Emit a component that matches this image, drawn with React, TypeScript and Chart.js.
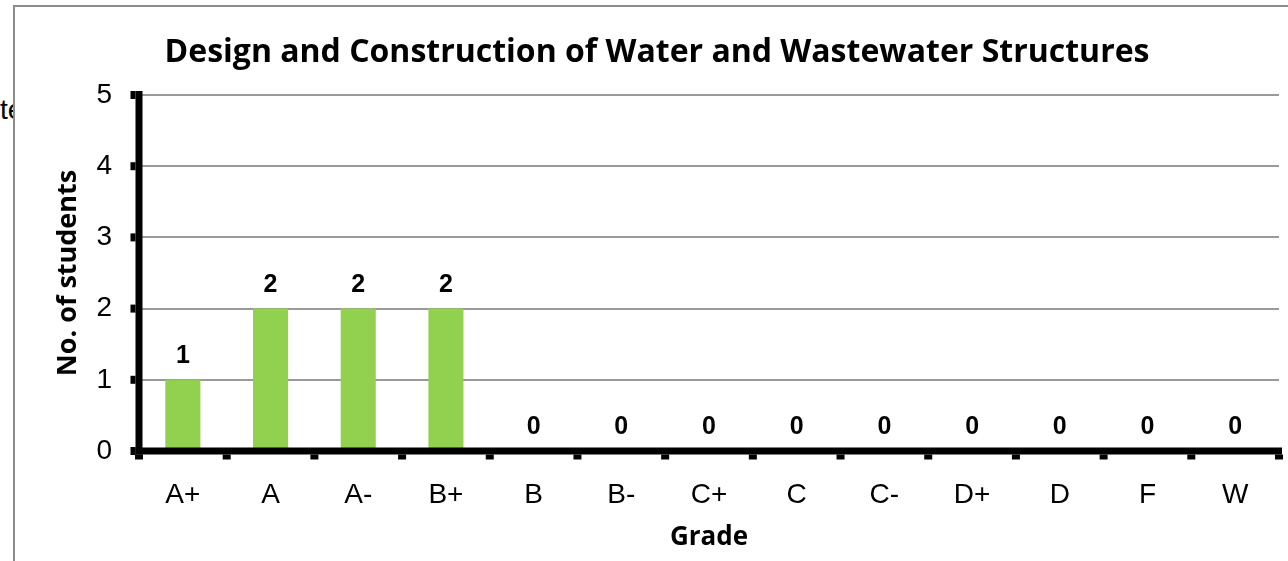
import React, { useEffect, useRef } from "react";
import { Chart, registerables } from "chart.js";

Chart.register(...registerables);

const TITLE = "Design and Construction of Water and Wastewater Structures";
const grades = ["A+", "A", "A-", "B+", "B", "B-", "C+", "C", "C-", "D+", "D", "F", "W"];
const students = [1, 2, 2, 2, 0, 0, 0, 0, 0, 0, 0, 0, 0];
const yMin = 0;
const yMax = 5;
const yStep = 1;
const xTitle = "Grade";
const yTitle = "No. of students";
const strayText = "te";

const AXIS_W = 7;

const titlePlugin = {
  id: "customTitle",
  afterDraw(chart: any) {
    const ctx = chart.ctx;
    ctx.save();
    ctx.font = "bold 32px 'Open Sans'";
    ctx.fillStyle = "#000";
    ctx.textAlign = "center";
    ctx.textBaseline = "alphabetic";
    ctx.fillText(TITLE, 657, 62);
    ctx.restore();
  },
};

const axesPlugin = {
  id: "thickAxes",
  afterDatasetsDraw(chart: any) {
    const ctx = chart.ctx;
    const { left, right } = chart.chartArea;
    const ys = chart.scales.y;
    const xs = chart.scales.x;
    const y0 = ys.getPixelForValue(yMin);
    const yTop = ys.getPixelForValue(yMax);
    ctx.save();
    ctx.fillStyle = "#000";
    // y axis line
    ctx.fillRect(left - AXIS_W / 2, yTop - 4, AXIS_W, y0 - yTop + 4 + AXIS_W / 2);
    // x axis line
    ctx.fillRect(left - AXIS_W / 2, y0 - AXIS_W / 2, right - left + AXIS_W / 2 + 3, AXIS_W);
    // y tick marks
    ys.ticks.forEach((t: any) => {
      const y = ys.getPixelForValue(t.value);
      ctx.fillRect(left - AXIS_W / 2 - 5, y - 4, 5, 8);
    });
    // x tick marks at category boundaries
    const n = grades.length;
    for (let i = 0; i <= n; i++) {
      const x = xs.left + (i * (xs.right - xs.left)) / n;
      ctx.fillRect(x - 4, y0 + AXIS_W / 2, 8, 5);
    }
    ctx.restore();
  },
};

const labelsPlugin = {
  id: "barLabels",
  afterDatasetsDraw(chart: any) {
    const ctx = chart.ctx;
    const meta = chart.getDatasetMeta(0);
    ctx.save();
    ctx.font = "bold 25px 'Liberation Sans'";
    ctx.fillStyle = "#000";
    ctx.textAlign = "center";
    ctx.textBaseline = "alphabetic";
    meta.data.forEach((bar: any, i: number) => {
      ctx.fillText(String(students[i]), bar.x, bar.y - 17);
    });
    ctx.restore();
  },
};

export default function App() {
  const ref = useRef<HTMLCanvasElement>(null);

  useEffect(() => {
    let chart: Chart | null = null;
    let cancelled = false;
    const build = () => {
      if (cancelled || !ref.current) return;
      chart = new Chart(ref.current, {
        type: "bar",
        data: {
          labels: grades,
          datasets: [
            {
              data: students,
              backgroundColor: "#92d050",
              borderWidth: 0,
              barPercentage: 0.4,
              categoryPercentage: 1,
            },
          ],
        },
        options: {
          animation: false,
          responsive: false,
          devicePixelRatio: 1,
          layout: { padding: { top: 95, right: 9, left: 0, bottom: 0 } },
          plugins: {
            legend: { display: false },
            title: { display: false },
            tooltip: { enabled: false },
          },
          scales: {
            x: {
              grid: { display: false },
              border: { display: false },
              ticks: {
                color: "#000",
                font: { family: "'Liberation Sans'", size: 28 },
                padding: 19,
                maxRotation: 0,
                autoSkip: false,
              },
              title: {
                display: true,
                text: xTitle,
                color: "#000",
                font: { family: "'Open Sans'", size: 26, weight: "bold" },
                padding: { top: 0, bottom: 8 },
              },
              afterFit: (s: any) => {
                s.height = 110;
              },
            },
            y: {
              min: yMin,
              max: yMax,
              grid: { color: "#9a9a9a", lineWidth: 2, drawTicks: false },
              border: { display: false },
              ticks: {
                stepSize: yStep,
                color: "#000",
                font: { family: "'Liberation Sans'", size: 28 },
                padding: 27,
              },
              title: {
                display: true,
                text: yTitle,
                color: "#000",
                font: { family: "'Open Sans'", size: 27, weight: "bold" },
                padding: { top: 52, bottom: 0 },
              },
              afterFit: (s: any) => {
                s.width = 139;
              },
            },
          },
        },
        plugins: [titlePlugin, axesPlugin, labelsPlugin],
      });
    };
    const fonts = (document as any).fonts;
    if (fonts && fonts.load) {
      Promise.all([
        fonts.load("bold 32px 'Open Sans'"),
        fonts.load("28px 'Liberation Sans'"),
        fonts.load("bold 25px 'Liberation Sans'"),
      ]).then(build, build);
    } else {
      build();
    }
    return () => {
      cancelled = true;
      if (chart) chart.destroy();
    };
  }, []);

  return (
    <div
      style={{
        position: "fixed",
        left: 0,
        top: 0,
        width: 1288,
        height: 561,
        background: "#fff",
        overflow: "hidden",
      }}
    >
      <div
        style={{
          position: "absolute",
          left: 0,
          top: 94,
          width: 13,
          overflow: "hidden",
          whiteSpace: "nowrap",
          font: "28px 'Liberation Sans'",
          color: "#000",
        }}
      >
        {strayText}
      </div>
      <div
        style={{
          position: "absolute",
          left: 13,
          top: 5,
          width: 1288,
          height: 600,
          borderLeft: "2px solid #8c8c8c",
          borderTop: "2px solid #8c8c8c",
        }}
      />
      <canvas
        ref={ref}
        width={1288}
        height={561}
        style={{ position: "absolute", left: 0, top: 0, display: "block" }}
      />
    </div>
  );
}
